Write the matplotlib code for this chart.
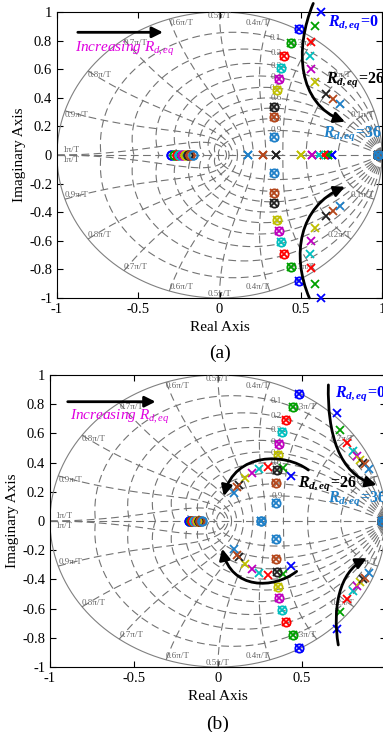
import numpy as np
import matplotlib
matplotlib.use("Agg")
import matplotlib.pyplot as plt
from matplotlib.path import Path
from matplotlib.patches import FancyArrowPatch

plt.rcParams['font.family'] = ['Liberation Serif', 'DejaVu Serif']
plt.rcParams['mathtext.fontset'] = 'custom'
plt.rcParams['mathtext.rm'] = 'Liberation Serif'
plt.rcParams['mathtext.it'] = 'Liberation Serif:italic'
plt.rcParams['mathtext.bf'] = 'Liberation Serif:bold'
plt.rcParams['mathtext.bfit'] = 'Liberation Serif:italic:bold'
plt.rcParams['axes.unicode_minus'] = False

# one colour per R_d,eq step (first = 0, seventh = 26, last = 36)
colors = ['#0000ff', '#00a000', '#ff0000', '#00bfbf', '#bf00bf',
          '#bfbf00', '#202020', '#b5461a', '#1f80c8']

# ---- panel (a) ----
a_pz_re = [0.490, 0.438, 0.399, 0.378, 0.368, 0.352, 0.337, 0.335, 0.335]
a_pz_im = [0.879, 0.785, 0.695, 0.611, 0.531, 0.455, 0.338, 0.264, 0.128]
a_pole_re = [0.623, 0.590, 0.563, 0.557, 0.563, 0.588, 0.653, 0.700, 0.742]
a_pole_im = [1.000, 0.902, 0.792, 0.692, 0.601, 0.513, 0.424, 0.389, 0.354]
a_real_pole = [0.690, 0.670, 0.643, 0.614, 0.571, 0.502, 0.348, 0.270, 0.173]
a_real_zero = [-0.298, -0.281, -0.264, -0.247, -0.230, -0.213, -0.196, -0.180, -0.163]
a_edge_pz = 0.975

# ---- panel (b) ----
b_pz_re = [0.484, 0.444, 0.405, 0.379, 0.365, 0.359, 0.349, 0.345, 0.345]
b_pz_im = [0.870, 0.779, 0.692, 0.607, 0.527, 0.452, 0.349, 0.262, 0.125]
b_outer_re = [0.706, 0.726, 0.766, 0.802, 0.825, 0.845, 0.862, 0.875, 0.901]
b_outer_im = [0.742, 0.623, 0.532, 0.482, 0.445, 0.418, 0.398, 0.388, 0.354]
b_inner_re = [0.433, 0.385, 0.299, 0.246, 0.200, 0.161, 0.127, 0.111, 0.097]
b_inner_im = [0.308, 0.361, 0.367, 0.356, 0.327, 0.292, 0.247, 0.231, 0.194]
b_real_zero = [-0.173, -0.163, -0.153, -0.143, -0.133, -0.124, -0.114, -0.105, -0.095]
b_real_pz = 0.256          # last series only
b_edge_pz = 0.975

# annotation arrows (cubic bezier: start, ctrl1, ctrl2, end)
a_arrows = [[(0.577, 1.06), (0.46, 0.74), (0.48, 0.36), (0.772, 0.233)],
            [(0.553, -1.0), (0.44, -0.70), (0.49, -0.36), (0.772, -0.222)]]
b_arrows = [[(0.657, 0.932), (0.65, 0.60), (0.72, 0.32), (0.944, 0.247)],
            [(0.716, -0.849), (0.68, -0.60), (0.72, -0.35), (0.885, -0.256)],
            [(0.538, 0.349), (0.40, 0.47), (0.10, 0.47), (0.035, 0.17)],
            [(0.468, -0.345), (0.33, -0.47), (0.08, -0.47), (0.025, -0.19)]]
a_incr = [(-0.889, 0.858), (-0.331, 0.858), (-0.889, 0.739)]
b_incr = [(-0.911, 0.817), (-0.355, 0.817), (-0.881, 0.715)]
a_rlabels = [('0', (0.668, 0.925), '#0000ff'), ('26', (0.655, 0.524), 'k'),
             ('36', (0.639, 0.152), '#1f80c8')]
b_rlabels = [('0', (0.696, 0.874), '#0000ff'), ('26', (0.478, 0.258), 'k'),
             ('36', (0.657, 0.155), '#1f80c8')]

zetas = np.arange(1, 10) / 10
wn_steps = np.arange(1, 11)
dash = (0, (7, 4))


def zgrid(ax):
    g = '0.45'
    th = np.linspace(0, np.pi, 400)
    ax.plot(np.cos(th), np.sin(th), color='0.5', lw=0.8)
    ax.plot(np.cos(th), -np.sin(th), color='0.5', lw=0.8)
    ax.plot([-1, 1], [0, 0], color=g, lw=0.8, ls=dash)
    for zeta in zetas:
        r = np.exp(-th * zeta / np.sqrt(1 - zeta ** 2))
        x, y = r * np.cos(th), r * np.sin(th)
        ax.plot(x, y, color=g, lw=0.8, ls=dash)
        ax.plot(x, -y, color=g, lw=0.8, ls=dash)
        i = np.argmax(x < 0.35)
        ax.text(x[i], y[i], f'{zeta:g}', color='0.4', fontsize=6.5,
                ha='center', va='center')
    zz = np.linspace(0, 1, 200)
    for k in wn_steps:
        wn = k * np.pi / 10
        z = np.exp(-zz * wn) * np.exp(1j * wn * np.sqrt(1 - zz ** 2))
        ax.plot(z.real, z.imag, color=g, lw=0.8, ls=dash)
        ax.plot(z.real, -z.imag, color=g, lw=0.8, ls=dash)
        cx, cy = np.cos(wn), np.sin(wn)
        ha = 'right' if cx > 0.01 else ('left' if cx < -0.01 else 'center')
        lab = f'{k / 10:g}\u03c0/T'
        if k == 10:
            ax.text(-0.97, 0.005, lab, color='0.4', fontsize=6.5, ha='left', va='bottom')
            ax.text(-0.97, -0.005, lab, color='0.4', fontsize=6.5, ha='left', va='top')
        else:
            ax.text(cx, cy, lab, color='0.4', fontsize=6.5, ha=ha, va='top')
            ax.text(cx, -cy, lab, color='0.4', fontsize=6.5, ha=ha, va='bottom')


def pz(ax, re, im, c, zero=True, pole=True):
    kw = dict(ls='none', ms=6, mew=1.3, clip_on=False, zorder=5)
    if zero:
        ax.plot([re, re], [im, -im], marker='o', mfc='none', mec=c, **kw)
    if pole:
        ax.plot([re, re], [im, -im], marker='x', color=c, **kw)


def arrow(ax, pts):
    codes = [Path.MOVETO, Path.CURVE4, Path.CURVE4, Path.CURVE4]
    p = FancyArrowPatch(path=Path(pts, codes), arrowstyle='-|>', mutation_scale=16,
                        lw=2, color='k', clip_on=False, zorder=6)
    ax.add_patch(p)


def texts(ax, incr, rlabels):
    ax.annotate('', xy=incr[1], xytext=incr[0],
                arrowprops=dict(arrowstyle='-|>', mutation_scale=16, lw=2, color='k'))
    ax.text(incr[2][0], incr[2][1], r'Increasing $R_{d,eq}$', color='#e000e0',
            style='italic', fontsize=11, ha='left', va='center')
    for val, (x, y), c in rlabels:
        ax.text(x, y, r'$\mathbfit{R_{d,eq}}\!\mathbf{=}\!\mathbf{' + val + '}$',
                color=c, fontsize=11.5, ha='left', va='center', zorder=7)


def style(ax, tag, show_one=True):
    ax.set_xlim(-1, 1)
    ax.set_ylim(-1, 1)
    ax.set_xticks([-1, -0.5, 0, 0.5, 1])
    ax.set_xticklabels(['-1', '-0.5', '0', '0.5', '1' if show_one else ''])
    yt = np.round(np.arange(-1, 1.01, 0.2), 1)
    ax.set_yticks(yt)
    ax.set_yticklabels([f'{v:g}' if v != 0 else '0' for v in yt])
    ax.tick_params(direction='in', top=True, right=True, labelsize=10.5, length=4)
    ax.set_xlabel('Real Axis', fontsize=11)
    ax.set_ylabel('Imaginary Axis', fontsize=11, labelpad=2)
    ax.text(0.5, -0.195, tag, transform=ax.transAxes, fontsize=14, ha='center', va='center')


fig = plt.figure(figsize=(3.83, 7.32), dpi=100)
ax1 = fig.add_axes([57 / 383, 1 - 298 / 732, 325 / 383, 286 / 732])
ax2 = fig.add_axes([50 / 383, 1 - 667 / 732, 336 / 383, 292 / 732])

zgrid(ax1)
for i, c in enumerate(colors):
    pz(ax1, a_pz_re[i], a_pz_im[i], c)
    pz(ax1, a_pole_re[i], a_pole_im[i], c, zero=False)
    pz(ax1, a_real_pole[i], 0, c, zero=False)
    pz(ax1, a_real_zero[i], 0, c, pole=False)
    pz(ax1, a_edge_pz, 0, c)
for pts in a_arrows:
    arrow(ax1, pts)
texts(ax1, a_incr, a_rlabels)
style(ax1, '(a)')

zgrid(ax2)
for i, c in enumerate(colors):
    pz(ax2, b_pz_re[i], b_pz_im[i], c)
    pz(ax2, b_outer_re[i], b_outer_im[i], c, zero=False)
    pz(ax2, b_inner_re[i], b_inner_im[i], c, zero=False)
    pz(ax2, b_real_zero[i], 0, c, pole=False)
    pz(ax2, b_edge_pz, 0, c)
pz(ax2, b_real_pz, 0, colors[-1])
for pts in b_arrows:
    arrow(ax2, pts)
texts(ax2, b_incr, b_rlabels)
style(ax2, '(b)', show_one=False)

fig.savefig('out.png', dpi=100)
